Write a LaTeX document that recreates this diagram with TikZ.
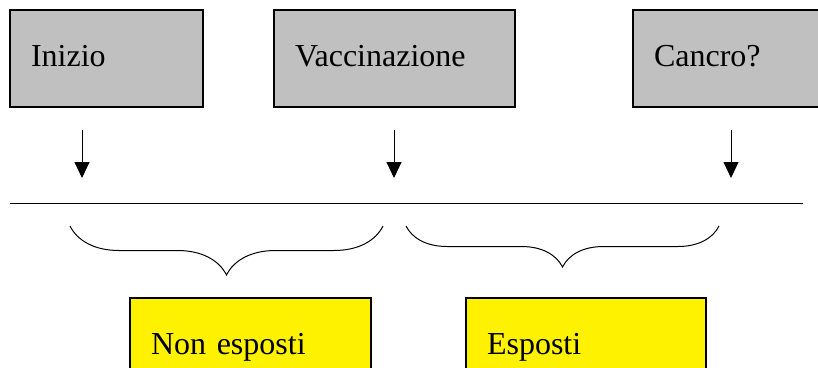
\documentclass[tikz,border=0pt]{standalone}
\usepackage{fontspec}
\setmainfont{Liberation Serif}
\usetikzlibrary{arrows.meta, decorations.pathreplacing}
\definecolor{boxgray}{HTML}{C0C0C0}

\begin{document}
\begin{tikzpicture}[
  x=1pt, y=-1pt,
  ev/.style  = {rectangle, draw, line width=1.2pt, fill=boxgray, minimum height=97pt,
                inner xsep=21pt, inner ysep=0pt, align=left,
                font=\fontsize{32}{37}\selectfont, text height=24pt, text depth=8pt},
  grp/.style = {ev, fill=yellow},
  arr/.style = {line width=1pt, -{Triangle[length=16pt, width=15pt]}},
  br/.style  = {line width=1pt, decorate, decoration={brace, mirror, amplitude=#1}},
  ]
  \useasboundingbox (0,0) rectangle (818,367);
  \clip (0,0) rectangle (818,367);

  % Events
  \node (start) at (106.5,58.5) [ev, text width=151pt] {Inizio};
  \node (vacc)  at (394.5,58.5) [ev, text width=199pt] {Vaccinazione};
  \node (canc)  at (729.5,58.5) [ev, text width=151pt] {Cancro?};
  % Groups
  \node (nonexp) at (250.5,346.5) [grp, text width=199pt] {Non esposti};
  \node (exp)    at (586,346.5)   [grp, text width=198pt] {Esposti};

  % Time axis
  \coordinate (axisL) at (10,203);
  \coordinate (axisR) at (803,203);
  \draw [line width=1pt] (axisL) -- (axisR);

  % Arrows to the axis
  \coordinate (s1) at (82,130);  \coordinate (e1) at (82,178);
  \coordinate (s2) at (394,130); \coordinate (e2) at (394,178);
  \coordinate (s3) at (731,130); \coordinate (e3) at (731,178);
  \draw
  (s1) edge [arr] (e1)
  (s2) edge [arr] (e2)
  (s3) edge [arr] (e3);

  % Periods
  \draw [br=49pt] (70,226) -- (383,226);
  \draw [br=41pt] (406,226) -- (719,226);
\end{tikzpicture}
\end{document}
